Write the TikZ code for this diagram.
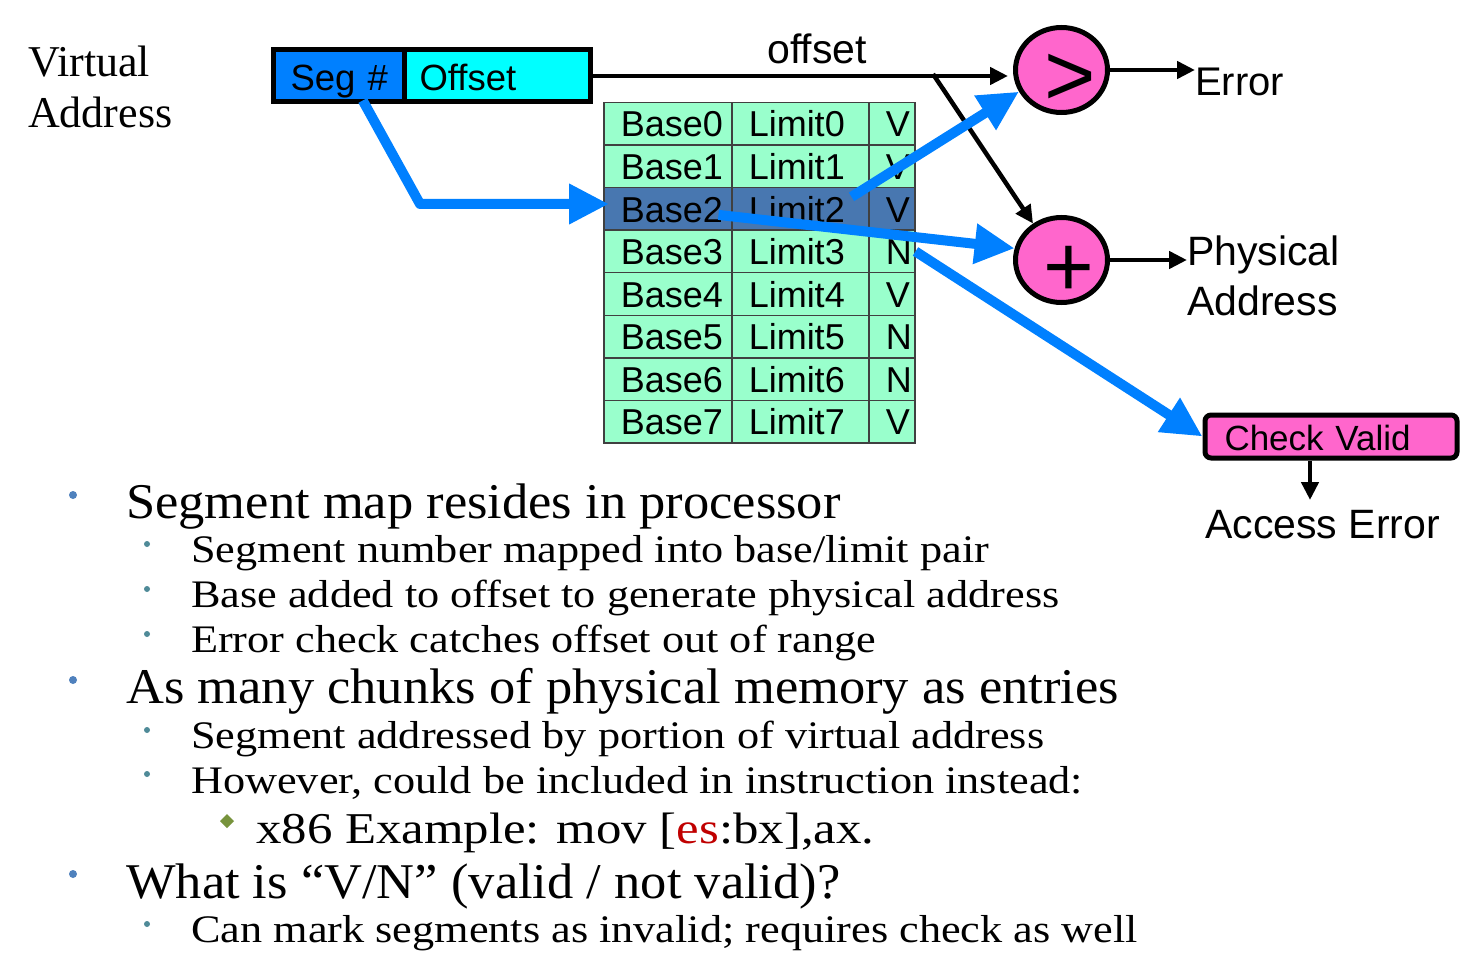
\documentclass[tikz,border=0pt]{standalone}
\usepackage{fontspec}
\setmainfont{Liberation Serif}
\newfontfamily\sansf{Liberation Sans}
\newfontfamily\serA{Liberation Serif}[FakeStretch=1.05]
\newfontfamily\serB{Liberation Serif}[FakeStretch=1.135]
\newfontfamily\serC{Liberation Serif}[FakeStretch=1.155]
\usetikzlibrary{arrows.meta,shapes.geometric,calc}
\definecolor{segblue}{HTML}{0080FF}
\definecolor{cyanfill}{HTML}{00FFFF}
\definecolor{mint}{HTML}{99FFCC}
\definecolor{selrow}{HTML}{4877B0}
\definecolor{pinkop}{HTML}{FF66CC}
\definecolor{bullA}{HTML}{4F81BD}
\definecolor{bullB}{HTML}{4F8A98}
\definecolor{bullC}{HTML}{77933C}
\definecolor{esred}{HTML}{C00000}
\begin{document}
\begin{tikzpicture}[x=1pt,y=-1pt,
  sans/.style={font={\sansf\fontsize{#1}{#1}\selectfont}},
  lbl/.style={inner sep=0pt, anchor=base west},
  cell/.style={draw=black!75, line width=1.5pt, minimum height=42.57pt, inner xsep=17pt,
     inner ysep=0pt, text height=29pt, text depth=2.6pt, align=left, anchor=north west, sans=36},
  field/.style={draw=black, line width=5pt, minimum height=52pt, inner ysep=0pt,
     text height=30pt, text depth=1pt, align=left, anchor=north west, sans=36.5},
  opnode/.style={ellipse, draw=black, line width=5pt, fill=pinkop, minimum width=92pt, minimum height=85pt, inner sep=0pt},
  blk/.style={draw=black, line width=4.5pt, -{Triangle[length=18pt,width=17pt]}},
  bluearr/.style={draw=segblue, line width=10pt, line join=round, -{Triangle[length=40pt,width=38pt]}},
  L1/.style={lbl, font={\serA\fontsize{50}{60}\selectfont}},
  L2/.style={lbl, font={\serB\fontsize{39}{47}\selectfont}},
  L3/.style={lbl, font={\serC\fontsize{44}{52}\selectfont}}]
\fill[white] (0,0) rectangle (1464,968);
\useasboundingbox (0,0) rectangle (1464,968);

% virtual address label
\node[lbl, font={\fontsize{44}{52}\selectfont}] (va1) at (28,77) {Virtual};
\node[lbl, font={\fontsize{44}{52}\selectfont}] (va2) at (28,128) {Address};

% virtual address fields
\node[field, fill=segblue, text width=96.5pt, inner xsep=17.5pt] (seg) at (270.5,47.5) {\mbox{Seg \#}};
\node[field, fill=cyanfill, text width=156pt, inner xsep=15pt] (off) at (402,47.5) {Offset};

% segment table
\foreach \i/\f/\c in {0/V/mint,1/V/mint,2/V/selrow,3/N/mint,4/V/mint,5/N/mint,6/N/mint,7/V/mint}{
  \pgfmathsetmacro\yy{101.7+42.57*\i}
  \node[cell, fill=\c, text width=94pt] (b\i) at (603,\yy) {Base\i};
  \node[cell, fill=\c, text width=103pt] (l\i) at (731,\yy) {Limit\i};
  \node[cell, fill=\c, text width=12pt] (v\i) at (868,\yy) {\f};
}

% operators
\node[opnode] (gt) at (1061.5,70) {};
\node[lbl, sans=88] (gtsym) at (1044,106) {>};
\node[opnode] (plus) at (1061.5,260) {};
\node[lbl, sans=87] (plussym) at (1043,297) {+};

% labels
\node[lbl, sans=41] (offlbl) at (767,64) {offset};
\node[lbl, sans=40] (err) at (1195,96) {Error};
\node[lbl, sans=41] (pa1) at (1187,266) {Physical};
\node[lbl, sans=41] (pa2) at (1187,316) {Address};
\node[draw=black, line width=5pt, fill=pinkop, rounded corners=6pt, anchor=north west,
      minimum width=252pt, minimum height=43pt, inner xsep=19.5pt, inner ysep=0pt,
      text width=213pt, text height=30pt, text depth=2pt, align=left, sans=35] (cv) at (1202.5,412.5) {Check Valid};
\node[lbl, sans=41] (ae) at (1205,538) {Access Error};

% black connectors
\coordinate (br) at (933,74);
\coordinate (aetip) at (1310,500);
\draw[blk, shorten >=5pt] (off.east) -- (off.east -| gt.west);
\draw[blk] (br) -- (plus.128);
\draw[blk] (gt.east) -- (gt.east -| err.west) ;
\draw[blk] (plus.east) -- (plus.east -| pa1.west);
\draw[blk] (cv.south -| aetip) -- (aetip);

% blue connectors
\coordinate (segbend) at (420,204);
\draw[bluearr, shorten >=-6pt] ($(seg.south)+(24,-4)$) -- (segbend) -- (segbend -| b2.west);
\draw[bluearr] ($(l2.east)+(-18,-12)$) -- (gt.207);
\draw[bluearr] ($(b2.east)+(-14,6)$) -- (plus.166);
\draw[bluearr] (v3.east) -- (cv.west);

% bullet text
\fill[bullA] (73,495) circle (4);
\node[L1] (t1) at (126,518) {Segment map resides in processor};
\fill[bullB] (147,544) circle (3);
\node[L2] (t2) at (191,562) {Segment number mapped into base/limit pair};
\fill[bullB] (147,589) circle (3);
\node[L2] (t3) at (191,607) {Base added to offset to generate physical address};
\fill[bullB] (147,634) circle (3);
\node[L2] (t4) at (191,652) {Error check catches offset out of range};
\fill[bullA] (73,680) circle (4);
\node[L1] (t5) at (126,703) {As many chunks of physical memory as entries};
\fill[bullB] (147,730) circle (3);
\node[L2] (t6) at (191,748) {Segment addressed by portion of virtual address};
\fill[bullB] (147,774) circle (3);
\node[L2] (t7) at (191,793) {However, could be included in instruction instead:};
\fill[bullC] (227,814) -- (234,821) -- (227,828) -- (220,821) -- cycle;
\node[L3] (t8) at (256,843) {x86 Example: mov [\textcolor{esred}{es}:bx],ax.};
\fill[bullA] (73,874) circle (4);
\node[L1] (t9) at (126,898) {What is “V/N” (valid / not valid)?};
\fill[bullB] (147,924) circle (3);
\node[L2] (t10) at (191,942) {Can mark segments as invalid; requires check as well};
\end{tikzpicture}
\end{document}
